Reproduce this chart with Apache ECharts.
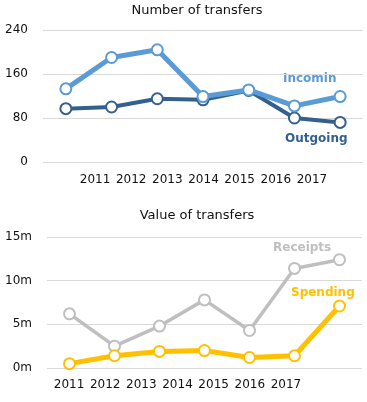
<!DOCTYPE html>
<html><head><meta charset="utf-8">
<script src="https://cdn.jsdelivr.net/npm/echarts@6/dist/echarts.min.js"></script>
<style>html,body{margin:0;padding:0;background:#fff}#c{width:367px;height:402px}</style>
</head><body><div id="c"></div>
<script>
var years = ['2011','2012','2013','2014','2015','2016','2017'];
var incoming = [133, 190, 204, 119, 131, 102, 119];
var outgoing = [97, 100, 115, 113, 130, 80, 72];
var receipts = [6.2, 2.5, 4.8, 7.8, 4.3, 11.4, 12.4];
var spending = [0.5, 1.4, 1.9, 2.0, 1.2, 1.4, 7.1];
var countTicks = [0, 80, 160, 240];
var valueTicks = ['0m', '5m', '10m', '15m'];

var FONT = 'DejaVu Sans';
var chart = echarts.init(document.getElementById('c'), null, {renderer: 'canvas'});
function lineSeries(name, data, color, width, xi, yi, z) {
  return {
    name: name, type: 'line', data: data, xAxisIndex: xi, yAxisIndex: yi, z: z,
    symbol: 'circle', symbolSize: 11,
    lineStyle: {color: color, width: width},
    itemStyle: {color: '#fff', borderColor: color, borderWidth: 2},
    animation: false
  };
}
var hiddenCat = {type: 'category', data: years, boundaryGap: true,
  axisLine: {show: false}, axisTick: {show: false}, axisLabel: {show: false}, splitLine: {show: false}};
function labelAxis(gi, margin) {
  return {type: 'category', gridIndex: gi, data: years, boundaryGap: true,
    axisLine: {show: false}, axisTick: {show: false}, splitLine: {show: false},
    axisLabel: {show: true, interval: 0, margin: margin, color: '#111', fontFamily: FONT, fontSize: 12}};
}
function hiddenVal(gi) {
  return {type: 'value', gridIndex: gi, show: false, min: 0, max: 1, splitLine: {show: false}};
}
chart.setOption({
  animation: false,
  title: [
    {text: 'Number of transfers', left: 197, top: 4, padding: 0, textAlign: 'center',
      textStyle: {fontFamily: FONT, fontSize: 13, fontWeight: 'normal', color: '#111'}},
    {text: 'Value of transfers', left: 197, top: 209, padding: 0, textAlign: 'center',
      textStyle: {fontFamily: FONT, fontSize: 13, fontWeight: 'normal', color: '#111'}}
  ],
  grid: [
    {left: 43, right: 4, top: 30, height: 132},
    {left: 77, right: 37, top: 30, height: 132},
    {left: 47, right: 5, top: 237, height: 131},
    {left: 51, right: 63, top: 237, height: 131}
  ],
  xAxis: [
    Object.assign({gridIndex: 0}, hiddenCat),
    labelAxis(1, 12),
    Object.assign({gridIndex: 2}, hiddenCat),
    labelAxis(3, 11)
  ],
  yAxis: [
    {type: 'value', gridIndex: 0, min: countTicks[0], max: countTicks[countTicks.length - 1], interval: 80,
      axisLine: {show: false}, axisTick: {show: false},
      axisLabel: {margin: 15, color: '#111', fontFamily: FONT, fontSize: 12},
      splitLine: {lineStyle: {color: '#d9d9d9', width: 1}}},
    hiddenVal(1),
    {type: 'value', gridIndex: 2, min: 0, max: 15, interval: 5,
      axisLine: {show: false}, axisTick: {show: false},
      axisLabel: {margin: 15, color: '#111', fontFamily: FONT, fontSize: 12,
        formatter: function (v) { return valueTicks[Math.round(v / 5)]; }},
      splitLine: {lineStyle: {color: '#d9d9d9', width: 1}}},
    hiddenVal(3)
  ],
  series: [
    lineSeries('Outgoing', outgoing, '#34608F', 4, 0, 0, 2),
    lineSeries('Incoming', incoming, '#5B9BD5', 5, 0, 0, 3),
    lineSeries('Receipts', receipts, '#BFBFBF', 3.5, 2, 2, 2),
    lineSeries('Spending', spending, '#FFC000', 5, 2, 2, 3)
  ],
  graphic: [
    {type: 'text', left: 283, top: 73, style: {text: 'Incomin', fill: '#5B9BD5', font: 'bold 12px "DejaVu Sans"'}},
    {type: 'text', left: 285, top: 133, style: {text: 'Outgoing', fill: '#34608F', font: 'bold 12px "DejaVu Sans"'}},
    {type: 'text', left: 273, top: 242, style: {text: 'Receipts', fill: '#BFBFBF', font: 'bold 12px "DejaVu Sans"'}},
    {type: 'text', left: 291, top: 287, style: {text: 'Spending', fill: '#FFC000', font: 'bold 12px "DejaVu Sans"'}}
  ]
});
</script></body></html>
